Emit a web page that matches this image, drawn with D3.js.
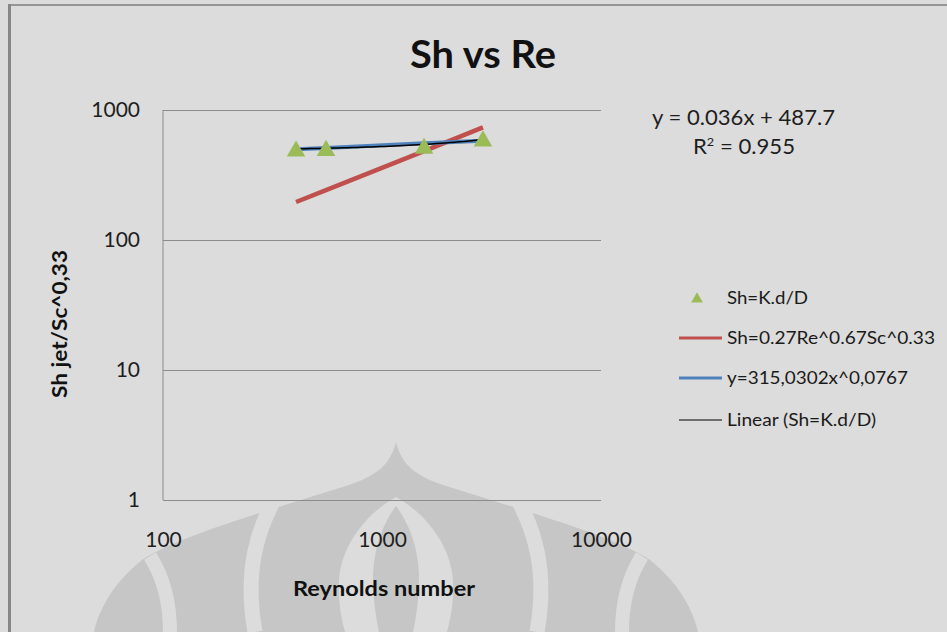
<!DOCTYPE html>
<html>
<head>
<meta charset="utf-8">
<script src="https://cdn.jsdelivr.net/npm/d3@7"></script>
<style>
  html, body { margin: 0; padding: 0; background: #dcdcdc; }
  svg { display: block; }
  text { font-family: Lato, "Open Sans", "DejaVu Sans", sans-serif; }
</style>
</head>
<body>
<svg id="chart" width="947" height="632"></svg>
<script>
// Reynolds number of each jet run and the Sherwood values derived from it
const reynolds = [405, 555, 1556, 2890];
const shMeasured = [500, 505, 525, 598];          // Sh = K.d/D
const shCorrelation = [196, 242, 483, 736];       // Sh = 0.27 Re^0.67 Sc^0.33
const shPowerFit = [499, 511, 554, 581];          // y = 315,0302 x^0,0767
// Linear trendline of the measured series
const trendSlope = 0.036;
const trendIntercept = 487.7;
const trendR2 = 0.955;

const xTicks = [100, 1000, 10000];
const yTicks = [1, 10, 100, 1000];
const seriesNames = ["Sh=K.d/D", "Sh=0.27Re^0.67Sc^0.33", "y=315,0302x^0,0767", "Linear (Sh=K.d/D)"];

const colors = { measured: "#9bbb59", correlation: "#c0504d", power: "#4f81bd", linear: "#000000" };

const svg = d3.select("#chart");
const W = 947, H = 632;
const plot = { left: 163, right: 601, top: 110, bottom: 500 };

const x = d3.scaleLog().domain([100, 10000]).range([plot.left, plot.right]);
const y = d3.scaleLog().domain([1, 1000]).range([plot.bottom, plot.top]);

// Background
svg.append("rect").attr("width", W).attr("height", H).attr("fill", "#dcdcdc");

// Faint emblem behind the lower part of the chart
const wm = svg.append("g").attr("class", "emblem");
wm.append("path")
  .attr("fill", "#c6c6c6")
  .attr("d", "M396,442 C401,462 412,474 440,484 L520,509 C560,522 620,540 650,560 C675,580 692,605 698,632 " +
             "L94,632 C100,605 117,580 142,560 C172,540 232,522 272,509 L352,484 C380,474 391,462 396,442 Z");
const band = (d, w) => wm.append("path").attr("d", d).attr("fill", "none")
  .attr("stroke", "#dcdcdc").attr("stroke-width", w).attr("stroke-linecap", "butt");
band("M274,500 C258,530 244,570 255,632", 15);
band("M518,500 C534,530 548,570 537,632", 15);
band("M150,556 C162,575 170,600 170,632", 14);
band("M642,556 C630,575 622,600 622,632", 14);
wm.append("path").attr("fill", "#dcdcdc")
  .attr("d", "M396,497 C372,510 342,540 339,580 C338,605 342,620 345,632 L447,632 C450,620 454,605 453,580 C450,540 420,510 396,497 Z");
wm.append("path").attr("fill", "#c6c6c6")
  .attr("d", "M396,506 C384,522 374,545 373,575 C373,600 376,618 379,632 L413,632 C416,618 419,600 419,575 C418,545 408,522 396,506 Z");

// Outer frame (top and left edges)
svg.append("rect").attr("x", 8).attr("y", 4).attr("width", W - 8).attr("height", 2).attr("fill", "#959595");
svg.append("rect").attr("x", 8).attr("y", 4).attr("width", 3).attr("height", H - 4).attr("fill", "#878787");

// Title
svg.append("text").attr("x", 483).attr("y", 68).attr("text-anchor", "middle")
  .attr("font-size", 38).attr("font-weight", "bold").attr("fill", "#111")
  .attr("textLength", 146).attr("lengthAdjust", "spacingAndGlyphs")
  .text("Sh vs Re");

// Horizontal gridlines and y axis
const yAxis = svg.append("g").attr("transform", `translate(${plot.left},0)`)
  .call(d3.axisLeft(y).tickValues(yTicks).tickFormat(d3.format("d"))
    .tickSize(-(plot.right - plot.left)).tickPadding(23));
yAxis.select(".domain").attr("stroke", "#8c8c8c").attr("d", `M0,${plot.top}V${plot.bottom}`);
yAxis.selectAll(".tick line").attr("stroke", "#8c8c8c").attr("stroke-width", 1);
yAxis.selectAll(".tick text").attr("font-size", 21).attr("fill", "#1e1e1e")
  .attr("font-family", "Lato, sans-serif");

// x axis labels (no tick marks)
const xAxis = svg.append("g").attr("transform", `translate(0,${plot.bottom})`)
  .call(d3.axisBottom(x).tickValues(xTicks).tickFormat(d3.format("d")).tickSize(0));
xAxis.select(".domain").remove();
xAxis.selectAll(".tick text").attr("font-size", 21).attr("fill", "#1e1e1e")
  .attr("font-family", "Lato, sans-serif").attr("y", 40).attr("dy", "0.35em");

// Axis titles
svg.append("text").attr("x", 384).attr("y", 596).attr("text-anchor", "middle")
  .attr("font-size", 20).attr("font-weight", "bold").attr("fill", "#111")
  .attr("textLength", 182).attr("lengthAdjust", "spacingAndGlyphs")
  .text("Reynolds number");
svg.append("text").attr("transform", "translate(67,324) rotate(-90)").attr("text-anchor", "middle")
  .attr("font-size", 20).attr("font-weight", "bold").attr("fill", "#111")
  .attr("textLength", 148).attr("lengthAdjust", "spacingAndGlyphs")
  .text("Sh jet/Sc^0,33");

// Series
const pts = arr => reynolds.map((r, i) => [r, arr[i]]);
const line = d3.line().x(d => x(d[0])).y(d => y(d[1]));

svg.append("path").datum(pts(shCorrelation)).attr("d", line)
  .attr("fill", "none").attr("stroke", colors.correlation).attr("stroke-width", 4.5);

svg.append("path").datum(pts(shPowerFit)).attr("d", line)
  .attr("fill", "none").attr("stroke", colors.power).attr("stroke-width", 4);

const xMin = d3.min(reynolds), xMax = d3.max(reynolds);
const trendPts = d3.range(0, 41).map(i => {
  const r = xMin * Math.pow(xMax / xMin, i / 40);
  return [r, trendSlope * r + trendIntercept];
});
svg.append("path").datum(trendPts).attr("d", line)
  .attr("fill", "none").attr("stroke", colors.linear).attr("stroke-width", 1.5);

const tri = d3.symbol().type(d3.symbolTriangle).size(150);
svg.append("g").selectAll("path").data(pts(shMeasured)).join("path")
  .attr("transform", d => `translate(${x(d[0])},${y(d[1]) + 2})`)
  .attr("d", tri).attr("fill", colors.measured);

// Trendline equation
svg.append("text").attr("x", 652).attr("y", 125).attr("font-size", 21).attr("fill", "#1e1e1e")
  .attr("textLength", 183).attr("lengthAdjust", "spacingAndGlyphs")
  .text(`y = ${trendSlope}x + ${trendIntercept}`);
const r2 = svg.append("text").attr("x", 693).attr("y", 154).attr("font-size", 21).attr("fill", "#1e1e1e")
  .attr("textLength", 102).attr("lengthAdjust", "spacingAndGlyphs");
r2.append("tspan").text("R");
r2.append("tspan").attr("font-size", 12).attr("dy", -8).text("2");
r2.append("tspan").attr("dy", 8).text(` = ${trendR2}`);

// Legend
const legendRows = [298, 338, 378, 420];
const legendTextWidths = [81, 208, 181, 149];
const lg = svg.append("g");
lg.append("path").attr("transform", `translate(697,${legendRows[0] + 1})`)
  .attr("d", d3.symbol().type(d3.symbolTriangle).size(60)).attr("fill", colors.measured);
[[colors.correlation, 3], [colors.power, 3], [colors.linear, 1.2]].forEach((s, i) => {
  lg.append("line").attr("x1", 679).attr("x2", 722)
    .attr("y1", legendRows[i + 1]).attr("y2", legendRows[i + 1])
    .attr("stroke", s[0]).attr("stroke-width", s[1]);
});
seriesNames.forEach((name, i) => {
  lg.append("text").attr("x", 727).attr("y", legendRows[i]).attr("dy", "0.35em")
    .attr("font-size", 18).attr("fill", "#1a1a1a")
    .attr("textLength", legendTextWidths[i]).attr("lengthAdjust", "spacingAndGlyphs")
    .text(name);
});
</script>
</body>
</html>
